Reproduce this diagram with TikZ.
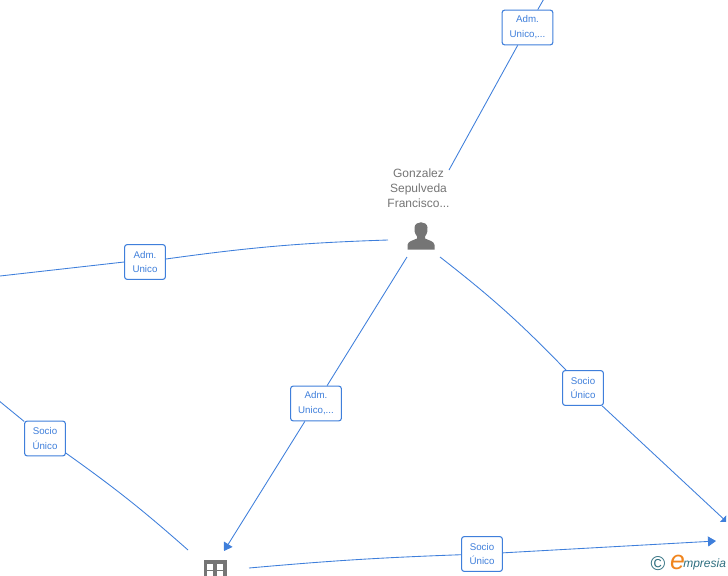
\documentclass[tikz,border=0pt]{standalone}
\usepackage{fontspec}
\setmainfont{Liberation Sans}
\usepackage{xcolor}
\usetikzlibrary{arrows.meta,positioning,calc}
\definecolor{linkblue}{HTML}{3F7FDB}
\definecolor{icongray}{HTML}{757575}
\definecolor{logoteal}{HTML}{2F6F80}
\definecolor{logoorange}{HTML}{F0851E}

\begin{document}
\begin{tikzpicture}[
  x=0.75pt, y=-0.75pt,
  link/.style={draw=linkblue, line width=0.65pt},
  linktip/.style={link, -{Triangle[length=6pt,width=7.5pt]}},
  lbl/.style={rectangle, draw=linkblue, fill=white, rounded corners=1.8pt, line width=0.8pt,
              font=\fontsize{7.3}{11.2}\selectfont, text=linkblue, align=center,
              inner sep=0pt},
  lblwide/.style={lbl, minimum width=38pt, minimum height=26pt},
  lblnarrow/.style={lbl, minimum width=30.5pt, minimum height=26pt},
  persname/.style={font=\fontsize{9}{11.2}\selectfont, text=icongray, align=center, inner sep=0pt},
]
\useasboundingbox (0,0) rectangle (728,575);
\clip (0,0) rectangle (728,575);
% ends of the connectors
\coordinate (topend) at (545,-3);
\coordinate (nameE)  at (449,170);
\coordinate (persW)  at (388,240);
\coordinate (persSW) at (407,257);
\coordinate (persSE) at (440,257);
\coordinate (leftA)  at (0,276);
\coordinate (leftB)  at (-2,400);
\coordinate (bldgNW) at (188,550);
\coordinate (bldgN)  at (224,551);
\coordinate (bldgE)  at (249,568);
\coordinate (rightA) at (729,524);
\coordinate (rightB) at (716,541);
% labels
\node[lblwide]   (admTop)  at (527.5,27.5)  {Adm.\\Unico,...};
\node[lblnarrow] (admLeft) at (145,262) {Adm.\\Unico};
\node[lblwide]   (admMid)  at (316,403.5) {Adm.\\Unico,...};
\node[lblnarrow] (socRight) at (583,388) {Socio\\Único};
\node[lblnarrow] (socLeft) at (45,438.5)  {Socio\\Único};
\node[lblnarrow] (socBot)  at (482,554) {Socio\\Único};
\node[persname]  (gonzalez) at (418.5,188) {Gonzalez\\Sepulveda\\Francisco...};
% person
\fill[icongray] (407.5,249.5) -- (407.5,245) .. controls (408,241) and (413,240.5) .. (417,238.5)
  -- (417,236.5) .. controls (414.5,233) and (414,230) .. (414.5,227.5)
  .. controls (415,220.5) and (427,220.5) .. (427.5,227.5)
  .. controls (428,230) and (427.5,233) .. (425,236.5) -- (425,238.5)
  .. controls (429,240.5) and (434,241) .. (434.5,245) -- (434.5,249.5) -- cycle;
% building
\fill[icongray] (204,560) rectangle (227,577);
\foreach \wx in {207,217} {
  \foreach \wy in {563.5,571} {
    \fill[white] (\wx,\wy) rectangle ++(6,6);
  }
}
% connectors
\draw[link] (nameE) -- (admTop);
\draw[link] (admTop) -- (topend);
\draw[link] (persW) to[bend right=3] (admLeft);
\draw[link] (admLeft.west) -- (leftA);
\draw[link] (persSW) -- (admMid);
\draw[linktip] (admMid) -- (bldgN);
\draw[link] (persSE) to[bend left=4] (socRight);
\begin{scope}
  \clip (0,0) rectangle (726,521);
  \draw[linktip] (socRight) -- (rightA);
\end{scope}
\draw[link] (leftB) -- (socLeft);
\draw[link] (socLeft) to[bend left=3] (bldgNW);
\draw[link] (bldgE) to[bend left=1.5] (socBot);
\draw[linktip] (socBot) -- (rightB);
% logo
\node[font=\fontsize{15}{15}\selectfont, text=logoteal, inner sep=0pt] (copyr) at (658,563.5) {©};
\node[font=\itshape\fontsize{20}{20}\selectfont, text=logoorange, inner sep=0pt] (logoE) at (677.5,562) {e};
\node[font=\itshape\fontsize{9}{9}\selectfont, text=logoteal, inner sep=0pt, anchor=west] (logoT) at (683,564.5) {mpresia};
\end{tikzpicture}
\end{document}
